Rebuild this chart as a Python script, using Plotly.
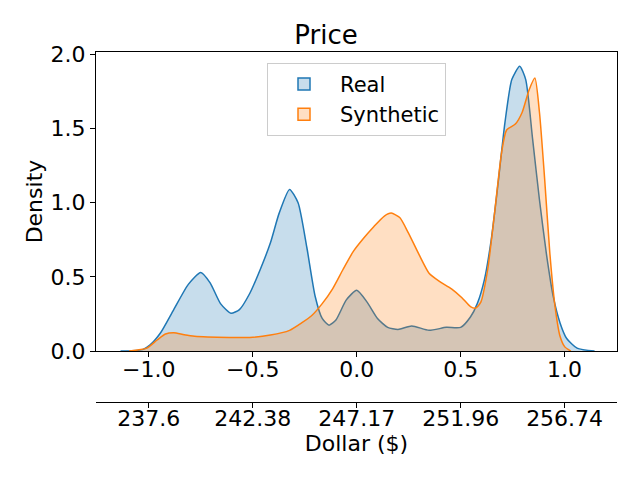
# KDE plot (Real vs Synthetic price)
import plotly.graph_objects as go

# Real の密度曲線 (正規化価格, 密度)
real_x = [-1.136, -1.03, -0.995, -0.945, -0.88, -0.81, -0.75, -0.705, -0.655, -0.605,
          -0.564, -0.514, -0.464, -0.415, -0.373, -0.323, -0.282, -0.24, -0.2, -0.166,
          -0.133, -0.1, -0.05, 0.0, 0.05, 0.1, 0.149, 0.199, 0.265, 0.348,
          0.431, 0.5, 0.547, 0.58, 0.614, 0.647, 0.68, 0.713, 0.746, 0.784,
          0.813, 0.846, 0.879, 0.912, 0.945, 0.978, 1.01, 1.06, 1.144]
real_y = [0.0, 0.01, 0.04, 0.12, 0.28, 0.45, 0.53, 0.46, 0.32, 0.255,
          0.28, 0.39, 0.55, 0.73, 0.93, 1.09, 1.0, 0.70, 0.37, 0.22,
          0.175, 0.21, 0.345, 0.41, 0.33, 0.22, 0.16, 0.146, 0.17, 0.14,
          0.16, 0.16, 0.23, 0.32, 0.48, 0.75, 1.13, 1.54, 1.83, 1.92,
          1.83, 1.43, 1.02, 0.66, 0.37, 0.19, 0.085, 0.02, 0.0]

# Synthetic の密度曲線
syn_x = [-1.095, -1.01, -0.96, -0.92, -0.88, -0.83, -0.78, -0.614, -0.514, -0.415,
         -0.323, -0.265, -0.216, -0.166, -0.116, -0.066, -0.017, 0.033, 0.083, 0.133,
         0.166, 0.207, 0.249, 0.3, 0.348, 0.398, 0.456, 0.506, 0.547, 0.572,
         0.597, 0.63, 0.663, 0.697, 0.721, 0.763, 0.796, 0.829, 0.857, 0.879,
         0.904, 0.929, 0.954, 0.978, 1.0, 1.03]
syn_y = [0.0, 0.02, 0.075, 0.115, 0.124, 0.11, 0.10, 0.092, 0.092, 0.108,
         0.14, 0.19, 0.24, 0.32, 0.42, 0.55, 0.67, 0.76, 0.84, 0.91,
         0.93, 0.90, 0.795, 0.65, 0.525, 0.47, 0.42, 0.36, 0.30, 0.29,
         0.33, 0.55, 0.93, 1.34, 1.49, 1.53, 1.61, 1.76, 1.84, 1.61,
         1.16, 0.66, 0.30, 0.10, 0.03, 0.0]

# 軸ラベル
norm_ticks = [-1.0, -0.5, 0.0, 0.5, 1.0]
norm_labels = ["\u22121.0", "\u22120.5", "0.0", "0.5", "1.0"]
dollar_labels = ["237.6", "242.38", "247.17", "251.96", "256.74"]
density_ticks = [0.0, 0.5, 1.0, 1.5, 2.0]

series = [("Real", real_x, real_y, "#1f77b4", "rgba(31,119,180,0.25)"),
          ("Synthetic", syn_x, syn_y, "#ff7f0e", "rgba(255,127,14,0.25)")]

fig = go.Figure()

for name, xs, ys, col, fcol in series:
    fig.add_trace(go.Scatter(
        x=xs, y=ys, name=name, mode="lines", showlegend=False,
        line=dict(color=col, width=1.5, shape="spline", smoothing=0.6),
        fill="tozeroy", fillcolor=fcol,
    ))

# 凡例は四角いパッチで表示
for name, xs, ys, col, fcol in series:
    fig.add_trace(go.Bar(
        x=[None], y=[None], name=name,
        marker=dict(color=fcol, line=dict(color=col, width=1.5)),
    ))

# ドル軸用のダミー
fig.add_trace(go.Scatter(
    x=norm_ticks, y=[None] * len(norm_ticks), xaxis="x2",
    showlegend=False, hoverinfo="skip",
))

axis_style = dict(showline=True, linecolor="black", linewidth=1,
                  ticks="outside", ticklen=5, tickcolor="black",
                  showgrid=False, zeroline=False, automargin=False,
                  tickfont=dict(size=22))

# ページの body 余白 (8px) を差し引いたマージン
fig.update_layout(
    width=640, height=480,
    margin=dict(l=88, r=31, t=44, b=20),
    paper_bgcolor="white", plot_bgcolor="white",
    font=dict(family="DejaVu Sans", size=22, color="black"),
    title=dict(text="Price", x=0.497, xanchor="center", y=1 - 27 / 480,
               yanchor="middle", font=dict(size=26)),
    legend=dict(x=0.5, xanchor="center", y=0.974, yanchor="top",
                bgcolor="rgba(255,255,255,0.8)", bordercolor="#cccccc", borderwidth=1,
                font=dict(size=21), itemwidth=62),
    xaxis=dict(range=[-1.254, 1.252], tickvals=norm_ticks, ticktext=norm_labels,
               mirror=True, ticklabelstandoff=-7, **axis_style),
    xaxis2=dict(overlaying="x", anchor="free", position=0.159, side="bottom",
                range=[-1.254, 1.252], tickvals=norm_ticks, ticktext=dollar_labels,
                ticklabelstandoff=-8,
                title=dict(text="Dollar ($)", font=dict(size=22), standoff=1),
                **axis_style),
    yaxis=dict(domain=[0.281, 1.0], range=[0, 2.016], tickvals=density_ticks,
               tickformat=".1f", mirror=True,
               title=dict(text="Density", font=dict(size=22), standoff=1),
               **axis_style),
)

fig.write_html("out.html")
